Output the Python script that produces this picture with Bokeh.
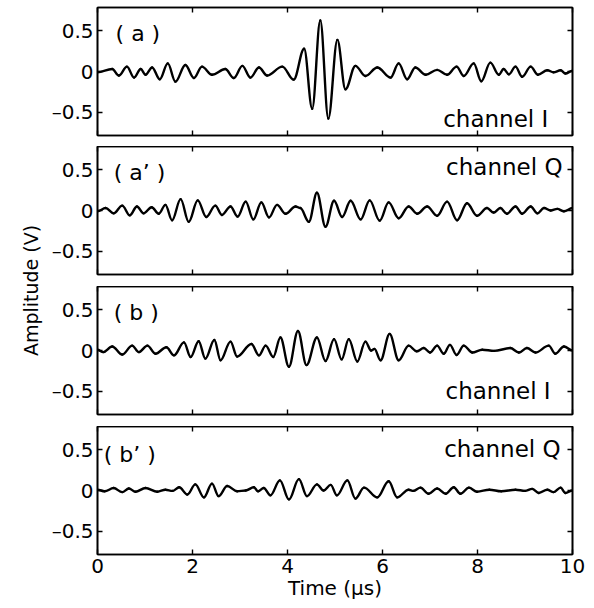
import numpy as np
from bokeh.plotting import figure
from bokeh.layouts import column, row
from bokeh.models import LinearAxis, Range1d, Label, FixedTicker
from bokeh.embed import file_html
from bokeh.resources import INLINE

# ---- data (extrema of each trace: time in µs, amplitude in V) ----
t_a = [0.0, 0.31, 0.45, 0.62, 0.77, 0.91, 1.01, 1.15, 1.31, 1.48, 1.64, 1.85, 2.03, 2.20, 2.41,
       2.69, 2.87, 3.05, 3.22, 3.40, 3.57, 3.89, 4.13, 4.35, 4.52, 4.69, 4.86, 5.05, 5.22, 5.43,
       5.64, 5.89, 6.17, 6.34, 6.52, 6.69, 6.91, 7.15, 7.36, 7.56, 7.71, 7.92, 8.08, 8.27, 8.45,
       8.55, 8.66, 8.80, 8.94, 9.12, 9.27, 9.47, 9.60, 9.75, 9.85, 10.0]
v_a = [-0.01, 0.03, -0.05, 0.06, -0.075, 0.03, -0.04, 0.05, -0.095, 0.10, -0.125, 0.08, -0.08, 0.06, -0.04,
       0.03, -0.08, 0.07, -0.075, 0.05, -0.05, 0.06, -0.10, 0.28, -0.46, 0.63, -0.58, 0.39, -0.22, 0.07,
       -0.055, 0.05, -0.075, 0.10, -0.095, 0.05, -0.04, 0.02, -0.04, 0.06, -0.055, 0.10, -0.12, 0.11, -0.04,
       0.03, -0.035, 0.06, -0.065, 0.06, -0.04, 0.015, -0.01, 0.015, -0.025, 0.01]

t_aq = [0.0, 0.17, 0.34, 0.52, 0.68, 0.83, 0.97, 1.14, 1.29, 1.43, 1.57, 1.75, 1.92, 2.11, 2.29,
        2.48, 2.62, 2.80, 2.95, 3.12, 3.28, 3.45, 3.61, 3.78, 3.96, 4.17, 4.27, 4.45, 4.62, 4.80,
        4.98, 5.15, 5.33, 5.54, 5.73, 5.94, 6.13, 6.34, 6.55, 6.73, 6.94, 7.15, 7.36, 7.57, 7.78,
        7.99, 8.20, 8.34, 8.48, 8.62, 8.80, 8.94, 9.12, 9.26, 9.40, 9.54, 9.68, 9.82, 10.0]
v_aq = [-0.01, 0.03, -0.035, 0.06, -0.06, 0.05, -0.035, 0.04, -0.04, 0.07, -0.12, 0.14, -0.14, 0.125, -0.08,
        0.06, -0.055, 0.05, -0.075, 0.11, -0.11, 0.10, -0.085, 0.07, -0.04, 0.05, 0.03, -0.14, 0.22, -0.20,
        0.12, -0.08, 0.12, -0.11, 0.125, -0.125, 0.10, -0.095, 0.05, -0.04, 0.05, -0.065, 0.11, -0.12, 0.09,
        -0.065, 0.03, -0.025, 0.03, -0.04, 0.05, -0.04, 0.05, -0.035, 0.03, 0.0, 0.02, -0.01, 0.03]

t_b = [0.0, 0.12, 0.31, 0.52, 0.73, 0.87, 1.05, 1.22, 1.45, 1.61, 1.82, 1.96, 2.13, 2.27, 2.46,
       2.59, 2.80, 2.94, 3.24, 3.40, 3.54, 3.70, 3.85, 4.03, 4.22, 4.40, 4.62, 4.80, 4.98, 5.14,
       5.29, 5.47, 5.64, 5.76, 5.83, 5.96, 6.15, 6.34, 6.55, 6.72, 6.87, 7.00, 7.15, 7.29, 7.42,
       7.56, 7.71, 7.89, 8.10, 8.35, 8.69, 8.87, 9.04, 9.22, 9.50, 9.64, 9.82, 10.0]
v_b = [0.01, -0.02, 0.05, -0.05, 0.06, -0.02, 0.06, -0.04, 0.04, -0.06, 0.10, -0.08, 0.115, -0.10, 0.13,
       -0.12, 0.11, -0.075, 0.08, -0.06, 0.06, -0.08, 0.16, -0.20, 0.24, -0.18, 0.16, -0.13, 0.14, -0.11,
       0.14, -0.135, 0.11, 0.0, 0.02, -0.12, 0.205, -0.12, 0.06, -0.01, 0.03, -0.025, 0.06, -0.04, 0.07,
       -0.055, 0.06, -0.025, 0.01, -0.005, 0.03, -0.025, 0.03, -0.025, 0.06, -0.04, 0.05, 0.0]

t_bq = [0.0, 0.15, 0.34, 0.52, 0.66, 0.80, 1.01, 1.26, 1.43, 1.58, 1.72, 1.89, 2.06, 2.24, 2.41,
        2.55, 2.73, 2.94, 3.12, 3.29, 3.38, 3.50, 3.64, 3.84, 4.03, 4.24, 4.41, 4.62, 4.76, 4.91,
        5.04, 5.26, 5.43, 5.61, 5.89, 6.13, 6.31, 6.55, 6.65, 6.80, 6.97, 7.15, 7.33, 7.50, 7.64,
        7.82, 7.99, 8.25, 8.50, 8.80, 9.00, 9.15, 9.29, 9.47, 9.60, 9.75, 9.85, 10.0]
v_bq = [0.01, -0.01, 0.03, -0.02, 0.025, -0.015, 0.03, -0.015, 0.01, -0.005, 0.04, -0.05, 0.075, -0.085, 0.085,
        -0.07, 0.055, -0.01, 0.0, 0.04, -0.01, 0.03, -0.06, 0.125, -0.11, 0.14, -0.07, 0.075, 0.0, 0.07,
        -0.06, 0.125, -0.10, 0.035, -0.085, 0.115, -0.085, 0.01, -0.005, 0.035, -0.04, 0.025, -0.04, 0.04, -0.04,
        0.035, -0.015, 0.01, -0.01, 0.01, -0.005, 0.02, -0.03, 0.01, -0.02, 0.035, -0.03, 0.0]

x_ticks = [0, 2, 4, 6, 8, 10]
y_ticks = [-0.5, 0, 0.5]
y_tick_labels = {-0.5: "\u20130.5", 0: "0", 0.5: "0.5"}
panel_tags = ["( a )", "( a\u2019 )", "( b )", "( b\u2019 )"]
channel_names = ["channel I", "channel Q", "channel I", "channel Q"]
x_label = "Time (\u00b5s)"
y_label = "Amplitude (V)"

FONT = "DejaVu Sans"
LEFT_W = 44          # width of the strip holding the shared y title
PANEL_W = 550
FRAME_H = 128


def style_axis(ax, ticks, show_labels):
    ax.ticker = FixedTicker(ticks=ticks)
    ax.major_tick_in = 5
    ax.major_tick_out = 0
    ax.minor_tick_line_color = None
    ax.axis_line_color = "black"
    ax.axis_line_width = 1.6
    ax.major_tick_line_color = "black"
    ax.major_tick_line_width = 1.4
    ax.major_label_text_font = FONT
    if show_labels:
        ax.major_label_text_color = "black"
        ax.major_label_text_font_size = "20px"
        ax.major_label_standoff = 4
    else:
        ax.major_label_text_color = None
        ax.major_label_text_font_size = "0px"
        ax.major_label_standoff = 0


def add_wave(p, t, v):
    t = np.asarray(t, dtype=float)
    v = np.asarray(v, dtype=float)
    dt = np.diff(t)
    k = 0.36
    p.bezier(x0=t[:-1], y0=v[:-1], x1=t[1:], y1=v[1:],
             cx0=t[:-1] + k * dt, cy0=v[:-1], cx1=t[1:] - k * dt, cy1=v[1:],
             line_color="black", line_width=2.4, line_cap="round")


def make_panel(t, v, top_b, bottom_b, last):
    p = figure(width=PANEL_W, height=top_b + FRAME_H + bottom_b,
               x_range=Range1d(0, 10), y_range=Range1d(-0.79, 0.79),
               output_backend="svg", toolbar_location=None,
               min_border_left=53, min_border_right=22,
               min_border_top=top_b, min_border_bottom=bottom_b)
    p.grid.visible = False
    p.outline_line_color = "black"
    p.outline_line_width = 1.6
    p.background_fill_color = "white"
    p.border_fill_color = "white"
    bottom_ax = p.below[0]
    left_ax = p.left[0]
    style_axis(bottom_ax, x_ticks, last)
    style_axis(left_ax, y_ticks, True)
    left_ax.major_label_overrides = y_tick_labels
    top = LinearAxis()
    right = LinearAxis()
    p.add_layout(top, "above")
    p.add_layout(right, "right")
    style_axis(top, x_ticks, False)
    style_axis(right, y_ticks, False)
    if last:
        bottom_ax.axis_label = x_label
        bottom_ax.axis_label_text_font = FONT
        bottom_ax.axis_label_text_font_size = "20px"
        bottom_ax.axis_label_text_font_style = "normal"
        bottom_ax.axis_label_text_color = "black"
        bottom_ax.axis_label_standoff = 0
    add_wave(p, t, v)
    return p


series = [(t_a, v_a), (t_aq, v_aq), (t_b, v_b), (t_bq, v_bq)]
borders = [(7, 11), (0, 12), (0, 12), (0, 54)]
tag_pos = [(0.38, 0.47), (0.34, 0.47), (0.34, 0.47), (0.13, 0.44)]
chan_pos = [(9.49, -0.59), (9.79, 0.54), (9.54, -0.50), (9.75, 0.51)]

panels = []
for i, (t, v) in enumerate(series):
    tb, bb = borders[i]
    p = make_panel(t, v, tb, bb, i == 3)
    tx, ty = tag_pos[i]
    p.add_layout(Label(x=tx, y=ty, text=panel_tags[i], text_font=FONT, text_font_size="22px",
                       text_align="left", text_baseline="middle", text_color="black"))
    cx, cy = chan_pos[i]
    p.add_layout(Label(x=cx, y=cy, text=channel_names[i], text_font=FONT, text_font_size="23px",
                       text_align="right", text_baseline="middle", text_color="black"))
    panels.append(p)

total_h = sum(tb + FRAME_H + bb for tb, bb in borders)

# narrow strip on the left that carries the shared y-axis title
strip = figure(width=LEFT_W, height=total_h, x_range=Range1d(0, LEFT_W), y_range=Range1d(0, total_h),
               output_backend="svg", toolbar_location=None,
               min_border_left=0, min_border_right=0, min_border_top=0, min_border_bottom=0)
strip.axis.visible = False
strip.grid.visible = False
strip.outline_line_color = None
strip.add_layout(Label(x=30, y=total_h - 290, text=y_label, angle=np.pi / 2, text_font=FONT,
                       text_font_size="19px", text_align="center", text_baseline="middle",
                       text_color="black"))

layout = row(strip, column(*panels, spacing=0), spacing=0)
open("out.html", "w").write(file_html(layout, INLINE))
